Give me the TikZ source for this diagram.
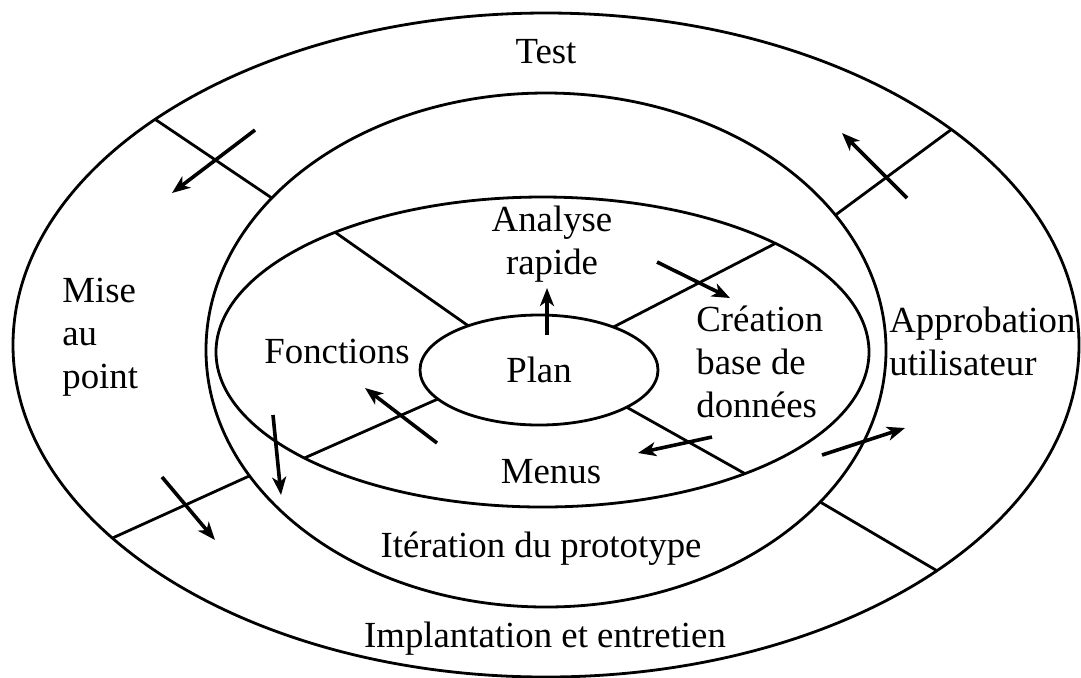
\documentclass[tikz,border=0pt]{standalone}
\usepackage{fontspec}
\setmainfont{Liberation Serif}
\usetikzlibrary{shapes.geometric,arrows.meta}
\begin{document}
\begin{tikzpicture}[x=0.5pt,y=-0.5pt,
  ring/.style={draw,ellipse,line width=1.4pt,inner sep=0pt,outer sep=0pt},
  divider/.style={line width=1.4pt},
  flow/.style={line width=1.8pt,-{Stealth[length=9pt,width=7pt,inset=2.5pt]}},
  lbl/.style={font=\fontsize{18.4}{21.5}\selectfont,inner sep=0pt}]
\useasboundingbox (0,0) rectangle (1081,677);
% ellipses
\node[ring,minimum width=533pt,minimum height=332pt] (outer) at (546,345) {};
\node[ring,minimum width=340pt,minimum height=257pt] (middle) at (546,350) {};
\node[ring,minimum width=326.5pt,minimum height=155pt] (inner) at (542.5,352) {};
\node[ring,minimum width=119pt,minimum height=55pt,font=\fontsize{18.4}{21.5}\selectfont] (plan) at (539,370) {Plan};
% dividers outer ring
\draw[divider] (outer.150.2) -- (middle.151.8);
\draw[divider] (middle.25.2) -- (outer.28.8);
\draw[divider] (outer.204.3) -- (middle.203.5);
\draw[divider] (middle.331.2) -- (outer.330.6);
% dividers inner ring
\draw[divider] (inner.150) -- (plan.148.7);
\draw[divider] (plan.30.5) -- (inner.25.8);
\draw[divider] (inner.204.5) -- (plan.196.4);
\draw[divider] (plan.337.3) -- (inner.329.8);
% labels (multi-line nodes: base = last line)
\node[lbl,anchor=base] (test) at (546,63) {Test};
\node[lbl,anchor=base west,align=left] (mise) at (62,388) {Mise\\au\\point};
\node[lbl,anchor=base,align=center] (analyse) at (552,274) {Analyse\\rapide};
\node[lbl,anchor=base west,align=left] (creation) at (696,417) {Création\\base de\\données};
\node[lbl,anchor=base west,align=left] (approb) at (889,375) {Approbation\\utilisateur};
\node[lbl,anchor=base] (fonctions) at (337,363) {Fonctions};
\node[lbl,anchor=base] (menus) at (551,483) {Menus};
\node[lbl,anchor=base] (iteration) at (541,557) {Itération du prototype};
\node[lbl,anchor=base] (implant) at (545,647) {Implantation et entretien};
% arrow end points
\coordinate (a1) at (255,130); \coordinate (a2) at (172,193);
\coordinate (b1) at (907,198); \coordinate (b2) at (842,133);
\coordinate (c1) at (162,477); \coordinate (c2) at (215,540);
\coordinate (d1) at (822,455); \coordinate (d2) at (905,428);
\coordinate (e1) at (273,415); \coordinate (e2) at (281,495);
\coordinate (f1) at (437,443); \coordinate (f2) at (365,388);
\coordinate (g1) at (547,335); \coordinate (g2) at (547,288);
\coordinate (h1) at (657,262); \coordinate (h2) at (730,298);
\coordinate (i1) at (712,437); \coordinate (i2) at (638,453);
\draw[flow] (a1) -- (a2);
\draw[flow] (b1) -- (b2);
\draw[flow] (c1) -- (c2);
\draw[flow] (d1) -- (d2);
\draw[flow] (e1) -- (e2);
\draw[flow] (f1) -- (f2);
\draw[flow] (g1) -- (g2);
\draw[flow] (h1) -- (h2);
\draw[flow] (i1) -- (i2);
\end{tikzpicture}
\end{document}
